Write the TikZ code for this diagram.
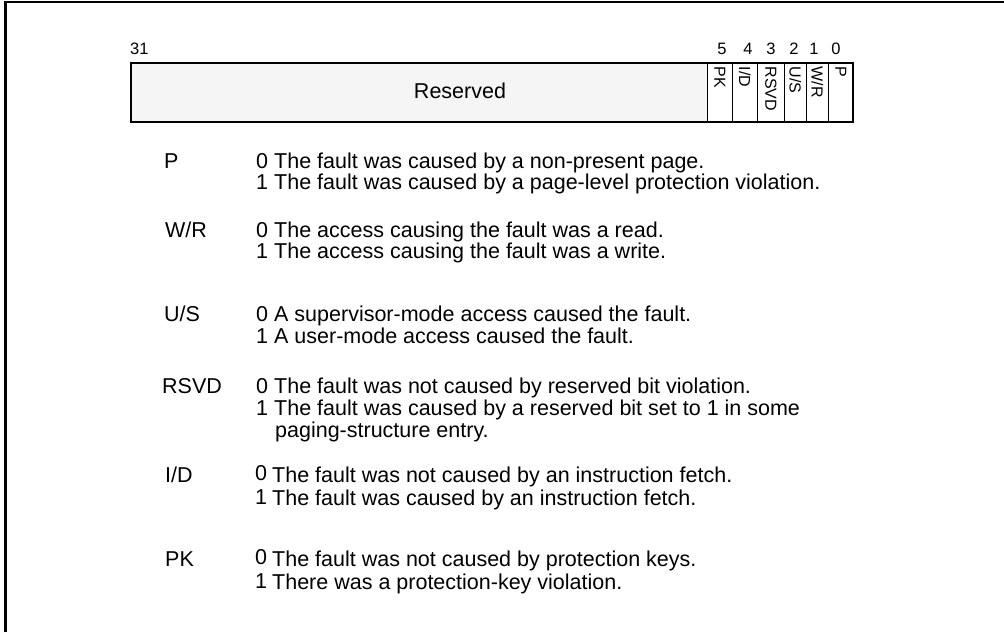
\documentclass[tikz,border=0pt]{standalone}
\usepackage{fontspec}
\setmainfont{Liberation Sans}
\begin{document}
\begin{tikzpicture}[x=1pt,y=-1pt,
  body/.style={anchor=base west,inner sep=0,font=\fontsize{21.5}{24}\selectfont},
  bitno/.style={anchor=base,inner sep=0,font=\fontsize{16.5}{20}\selectfont},
  fld/.style={rotate=-90,anchor=west,inner sep=0,font=\fontsize{16}{18}\selectfont},
  cell/.style={draw,line width=0.9pt,minimum height=59pt,inner sep=0,anchor=north west}]
\useasboundingbox (0,0) rectangle (1004,632);
% frame
\draw[line width=2.6pt] (5.3,632) -- (5.3,1.8) -- (1004,1.8);
% register
\fill[gray!8] (131,63.3) rectangle (707,122.3);
\node[cell,minimum width=25pt] (c5) at (707,63.3) {};
\node[cell,minimum width=25pt] (c4) at (732,63.3) {};
\node[cell,minimum width=27pt] (c3) at (757,63.3) {};
\node[cell,minimum width=22pt] (c2) at (784,63.3) {};
\node[cell,minimum width=22pt] (c1) at (806,63.3) {};
\node[cell,minimum width=25pt] (c0) at (828,63.3) {};
\draw[line width=2pt] (131.3,63.3) rectangle (853,122.3);
\node[inner sep=0,font=\fontsize{21.5}{24}\selectfont] (res) at (460,91) {Reserved};
\node[fld] (f5) at (c5.north |- 0,66.5) {PK};
\node[fld] (f4) at (c4.north |- 0,66.5) {I/D};
\node[fld] (f3) at (c3.north |- 0,66.5) {RSVD};
\node[fld] (f2) at (c2.north |- 0,66.5) {U/S};
\node[fld] (f1) at (c1.north |- 0,66.5) {W/R};
\node[fld] (f0) at (c0.north |- 0,66.5) {P};
% bit numbers
\node[bitno,anchor=base west] (b31) at (130,54) {31};
\node[bitno] (b5) at (722,54) {5};
\node[bitno] (b4) at (748,54) {4};
\node[bitno] (b3) at (771,54) {3};
\node[bitno] (b2) at (794,54) {2};
\node[bitno] (b1) at (814,54) {1};
\node[bitno] (b0) at (836,54) {0};
% descriptions
\node[body] (lp) at (164,168) {P};
\node[body] (lp0) at (256,168) {0};
\node[body] (tp0) at (274,168) {The fault was caused by a non-present page.};
\node[body] (lp1) at (256,189) {1};
\node[body] (tp1) at (274,189) {The fault was caused by a page-level protection violation.};

\node[body] (lw) at (165,237) {W/R};
\node[body] (lw0) at (256,237) {0};
\node[body] (tw0) at (274,237) {The access causing the fault was a read.};
\node[body] (lw1) at (256,258) {1};
\node[body] (tw1) at (274,258) {The access causing the fault was a write.};

\node[body] (lu) at (164,321) {U/S};
\node[body] (lu0) at (256,321) {0};
\node[body] (tu0) at (274,321) {A supervisor-mode access caused the fault.};
\node[body] (lu1) at (256,343) {1};
\node[body] (tu1) at (274,343) {A user-mode access caused the fault.};

\node[body] (lr) at (162,393) {RSVD};
\node[body] (lr0) at (256,393) {0};
\node[body] (tr0) at (274,393) {The fault was not caused by reserved bit violation.};
\node[body] (lr1) at (256,415) {1};
\node[body] (tr1) at (274,415) {The fault was caused by a reserved bit set to 1 in some};
\node[body] (tr2) at (275,437) {paging-structure entry.};

\node[body] (li) at (165,482) {I/D};
\node[body] (li0) at (255,480) {0};
\node[body] (ti0) at (272,482) {The fault was not caused by an instruction fetch.};
\node[body] (li1) at (255,504) {1};
\node[body] (ti1) at (272,505) {The fault was caused by an instruction fetch.};

\node[body] (lk) at (165,566) {PK};
\node[body] (lk0) at (255,564) {0};
\node[body] (tk0) at (272,566) {The fault was not caused by protection keys.};
\node[body] (lk1) at (255,588) {1};
\node[body] (tk1) at (272,589) {There was a protection-key violation.};
\end{tikzpicture}
\end{document}
